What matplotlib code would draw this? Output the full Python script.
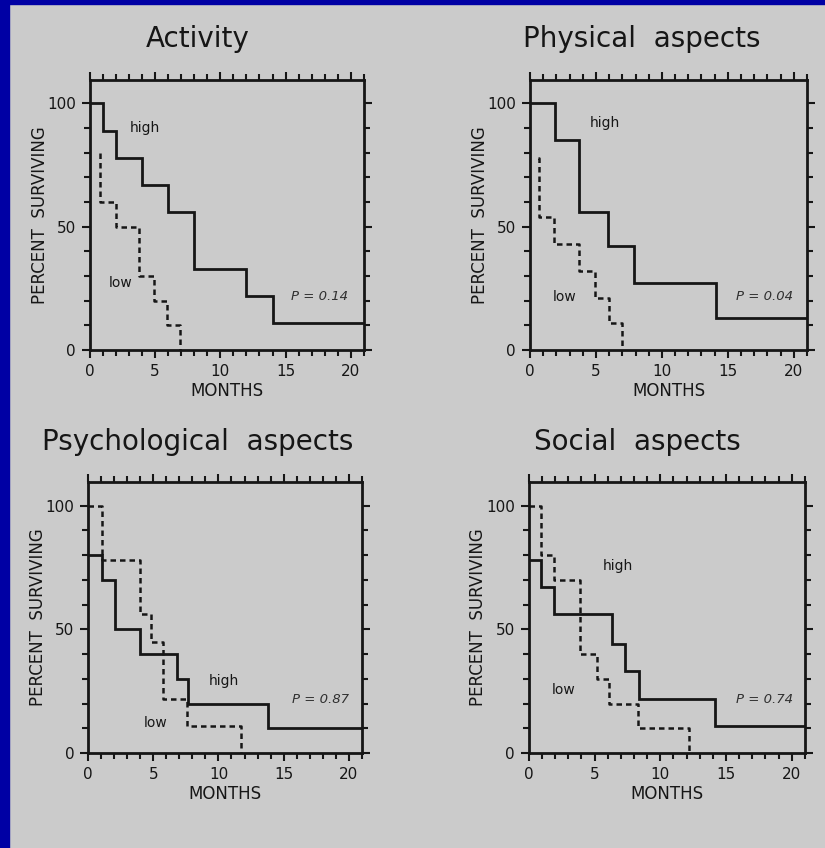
import matplotlib.pyplot as plt
from matplotlib.ticker import MultipleLocator

# Kaplan-Meier style curves (months, percent surviving)
titles = ['Activity', 'Physical  aspects', 'Psychological  aspects', 'Social  aspects']
p_values = ['P = 0.14', 'P = 0.04', 'P = 0.87', 'P = 0.74']

act_high_t = [0, 1, 2, 4, 6, 8, 12, 14, 21]
act_high_s = [100, 89, 78, 67, 56, 33, 22, 11, 11]
act_low_t = [0.8, 0.8, 2, 3.8, 4.9, 5.9, 6.9]
act_low_s = [80, 60, 50, 30, 20, 10, 0]

phy_high_t = [0, 1.9, 3.7, 5.9, 7.9, 14.1, 21]
phy_high_s = [100, 85, 56, 42, 27, 13, 13]
phy_low_t = [0.6, 0.7, 1.8, 3.7, 4.9, 6.0, 7.0]
phy_low_s = [78, 54, 43, 32, 21, 11, 0]

psy_high_t = [0, 1.05, 2.1, 4.0, 6.8, 7.7, 13.8, 21]
psy_high_s = [80, 70, 50, 40, 30, 20, 10, 10]
psy_low_t = [0, 1.05, 4.0, 4.85, 5.75, 7.6, 11.7]
psy_low_s = [100, 78, 56, 45, 22, 11, 0]

soc_high_t = [0, 0.95, 1.95, 6.35, 7.3, 8.4, 14.2, 21]
soc_high_s = [78, 67, 56, 44, 33, 22, 11, 11]
soc_low_t = [0, 0.9, 1.95, 3.9, 5.2, 6.1, 8.3, 12.2]
soc_low_s = [100, 80, 70, 40, 30, 20, 10, 0]

high_t = [act_high_t, phy_high_t, psy_high_t, soc_high_t]
high_s = [act_high_s, phy_high_s, psy_high_s, soc_high_s]
low_t = [act_low_t, phy_low_t, psy_low_t, soc_low_t]
low_s = [act_low_s, phy_low_s, psy_low_s, soc_low_s]

# label positions (data coords)
high_xy = [(4.25, 90), (5.65, 92), (10.4, 29), (6.8, 75.5)]
low_xy = [(2.35, 27), (2.6, 21.5), (5.2, 12), (2.65, 25.5)]
p_xy = [(17.6, 21.5), (17.8, 21.5), (17.8, 21.5), (17.9, 21.5)]

bg = '#cbcbcb'
ink = '#161616'

fig = plt.figure(figsize=(8.25, 8.48), dpi=100)
fig.patch.set_facecolor(bg)

# blue frame on the top and left edge
fig.add_artist(plt.Rectangle((0, 0), 9 / 825, 1, transform=fig.transFigure,
                             color='#0000a4', zorder=10))
fig.add_artist(plt.Rectangle((0, 1 - 4 / 848), 1, 4 / 848, transform=fig.transFigure,
                             color='#0000a4', zorder=10))

boxes = [
    [0.109, 0.5873, 0.332, 0.3184],
    [0.6424, 0.5873, 0.3358, 0.3184],
    [0.1067, 0.112, 0.332, 0.3196],
    [0.641, 0.112, 0.3345, 0.3196],
]
title_pos = [(198, 39), (642, 39), (198, 442), (637, 442)]

for i in range(4):
    ax = fig.add_axes(boxes[i])
    ax.set_facecolor(bg)
    ax.set_xlim(0, 21)
    ax.set_ylim(0, 109.5)

    ax.step(high_t[i], high_s[i], where='post', color=ink, lw=2.0, solid_joinstyle='miter')
    ax.step(low_t[i], low_s[i], where='post', color=ink, lw=1.8,
            linestyle=(0, (2.2, 1.6)))

    ax.text(*high_xy[i], 'high', fontsize=10, color=ink, ha='center', va='center')
    ax.text(*low_xy[i], 'low', fontsize=10, color=ink, ha='center', va='center')
    ax.text(*p_xy[i], p_values[i], fontsize=9.5, color='#303030', ha='center',
            va='center', style='italic')

    for s in ax.spines.values():
        s.set_linewidth(2.0)
        s.set_color(ink)

    ax.xaxis.set_major_locator(MultipleLocator(5))
    ax.xaxis.set_minor_locator(MultipleLocator(1))
    ax.yaxis.set_major_locator(MultipleLocator(50))
    ax.yaxis.set_minor_locator(MultipleLocator(10))
    ax.tick_params(which='both', direction='out', top=True, right=True,
                   color=ink, width=1.5, labelsize=11, labelcolor=ink)
    ax.tick_params(which='major', length=6, pad=4)
    ax.tick_params(which='minor', length=4)

    ax.set_xlabel('MONTHS', fontsize=12, color=ink, labelpad=2)
    ax.set_ylabel('PERCENT  SURVIVING', fontsize=12, color=ink, labelpad=-1)

    fig.text(title_pos[i][0] / 825, 1 - title_pos[i][1] / 848, titles[i],
             fontsize=20, color=ink, ha='center', va='center')

fig.savefig('out.png', dpi=100, facecolor=bg)
